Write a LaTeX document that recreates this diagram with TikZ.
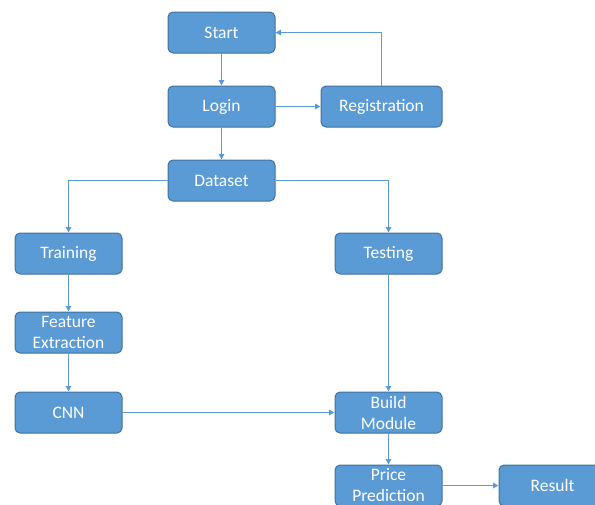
\documentclass[tikz,border=0pt]{standalone}
\usepackage{fontspec}
\setmainfont{Carlito}
\usetikzlibrary{arrows.meta}
\definecolor{boxfill}{HTML}{5B9BD5}
\definecolor{boxline}{HTML}{41719C}
\definecolor{conn}{HTML}{5B9BD5}
\begin{document}
\begin{tikzpicture}[x=1pt,y=-1pt,
  box/.style={draw=boxline,line width=1pt,fill=boxfill,rounded corners=5pt,minimum width=107pt,minimum height=41pt,text=white,font=\fontsize{17.5}{21}\selectfont,align=center,inner sep=0pt},
  conn/.style={draw=conn,line width=1.3pt,-{Triangle[length=5.5pt,width=5.5pt]}}]
\useasboundingbox (0,0) rectangle (595,504);
\clip (0,0) rectangle (595,504);
\node[box] (start) at (221.5,32.5) {Start};
\node[box] (login) at (221.5,106.5) {Login};
\node[box,minimum width=121pt] (reg) at (381.5,106.5) {Registration};
\node[box] (data) at (221.5,180.5) {Dataset};
\node[box] (train) at (68.5,253.5) {Training};
\node[box] (test) at (388.5,253.5) {Testing};
\node[box] (feat) at (68.5,332.5) {Feature\\Extraction};
\node[box] (cnn) at (68.5,412.5) {CNN};
\node[box] (build) at (388.5,412.5) {Build\\Module};
\node[box] (price) at (388.5,485.5) {Price\\Prediction};
\node[box] (res) at (552.5,485.5) {Result};
\draw[conn] (start) -- (login);
\draw[conn] (login) -- (reg);
\draw[conn] (reg.north) |- (start.east);
\draw[conn] (login) -- (data);
\draw[conn] (data.west) -| (train.north);
\draw[conn] (data.east) -| (test.north);
\draw[conn] (train) -- (feat);
\draw[conn] (feat) -- (cnn);
\draw[conn] (test) -- (build);
\draw[conn] (cnn) -- (build);
\draw[conn] (build) -- (price);
\draw[conn] (price) -- (res);
\end{tikzpicture}
\end{document}
